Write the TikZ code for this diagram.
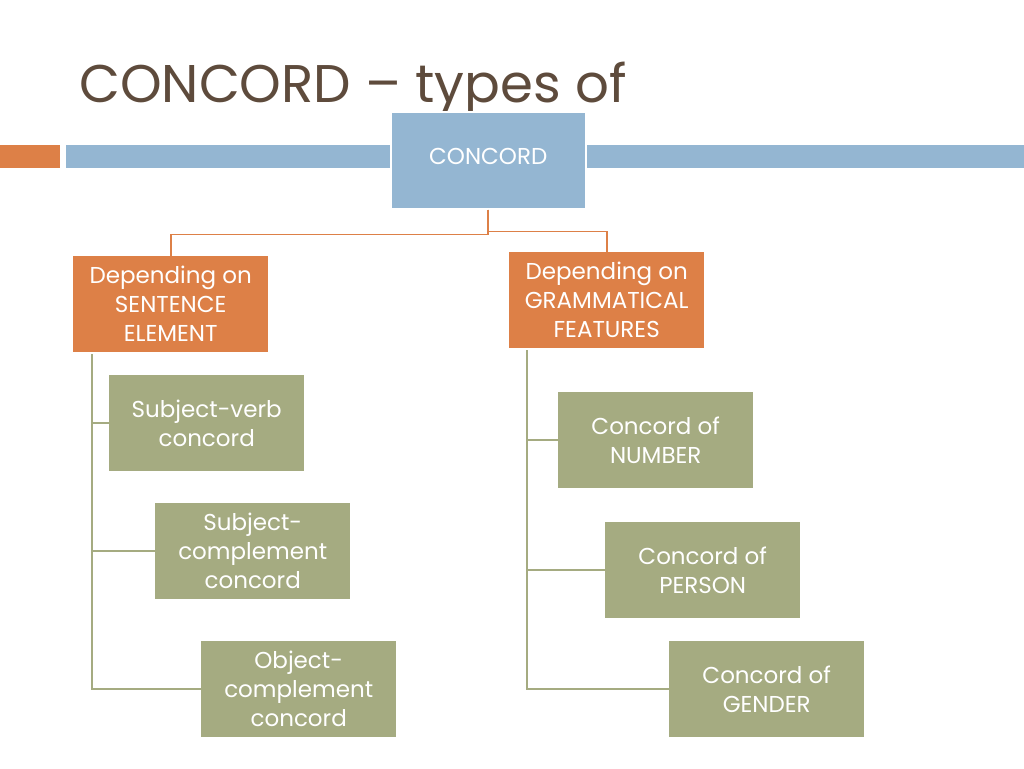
\documentclass[tikz,border=0pt]{standalone}
\usepackage{fontspec}
\setmainfont{Poppins}
\usetikzlibrary{positioning,calc}

\begin{document}
\begin{tikzpicture}[x=1pt,y=-1pt,
  catbox/.style={rectangle,fill=\crlr,text=white,anchor=north west,align=center,
    minimum width=195pt,minimum height=96pt,inner sep=2pt,
    font=\fontsize{23}{29}\selectfont},
  link/.style={draw=\crlr,line width=1.6pt}]
\definecolor{titlebrown}{HTML}{5E4B3C}
\definecolor{slateblue}{HTML}{94B6D2}
\definecolor{rust}{HTML}{DD8047}
\definecolor{sage}{HTML}{A5AB81}
\useasboundingbox (0,0) rectangle (1024,768);
\fill[white] (0,0) rectangle (1024,768);
% title and bars
\node[anchor=base west,text=titlebrown,inner sep=0pt,font=\fontsize{53}{60}\selectfont] (title) at (79,102) {CONCORD – types of};
\fill[rust] (0,145) rectangle (60,168);
\fill[slateblue] (66,145) rectangle (1024,168);
% root
\def\crlr{slateblue}
\node[catbox,draw=white,line width=1.5pt,minimum height=97pt,
  label={[text=white,anchor=north,yshift=-34pt,font=\fontsize{23}{29}\selectfont]north:CONCORD}] (concord) at (390,111) {};
% two groups
\def\crlr{rust}
\node[catbox] (sent) at (73,256) {Depending on\\SENTENCE\\ELEMENT};
\node[catbox] (gram) at (509,252) {Depending on\\GRAMMATICAL\\FEATURES};
\draw[link] (concord.south) -- ++(0,25) -| (sent.north);
\draw[link] (concord.south) -- ++(0,22) -| (gram.north);
% leaves
\def\crlr{sage}
\foreach \nm/\xx/\yy/\txt in {sv/109/375/{Subject-verb\\concord},sc/155/503/{Subject-\\complement\\concord},oc/201/641/{Object-\\complement\\concord},
  num/558/392/{Concord of\\NUMBER},per/605/522/{Concord of\\PERSON},gen/669/641/{Concord of\\GENDER}}
  {  \node [catbox] (\nm) at (\xx,\yy) {\txt};}
\coordinate (sentstem) at ([xshift=19pt]sent.south west);
\coordinate (gramstem) at ([xshift=18pt]gram.south west);
\foreach \nm in {sv,sc,oc}
  {  \draw[link] ([yshift=-2pt]sentstem) |- (\nm.west);}
\foreach \nm in {num,per,gen}
  {  \draw[link] ([yshift=-2pt]gramstem) |- (\nm.west);}
\end{tikzpicture}
\end{document}
